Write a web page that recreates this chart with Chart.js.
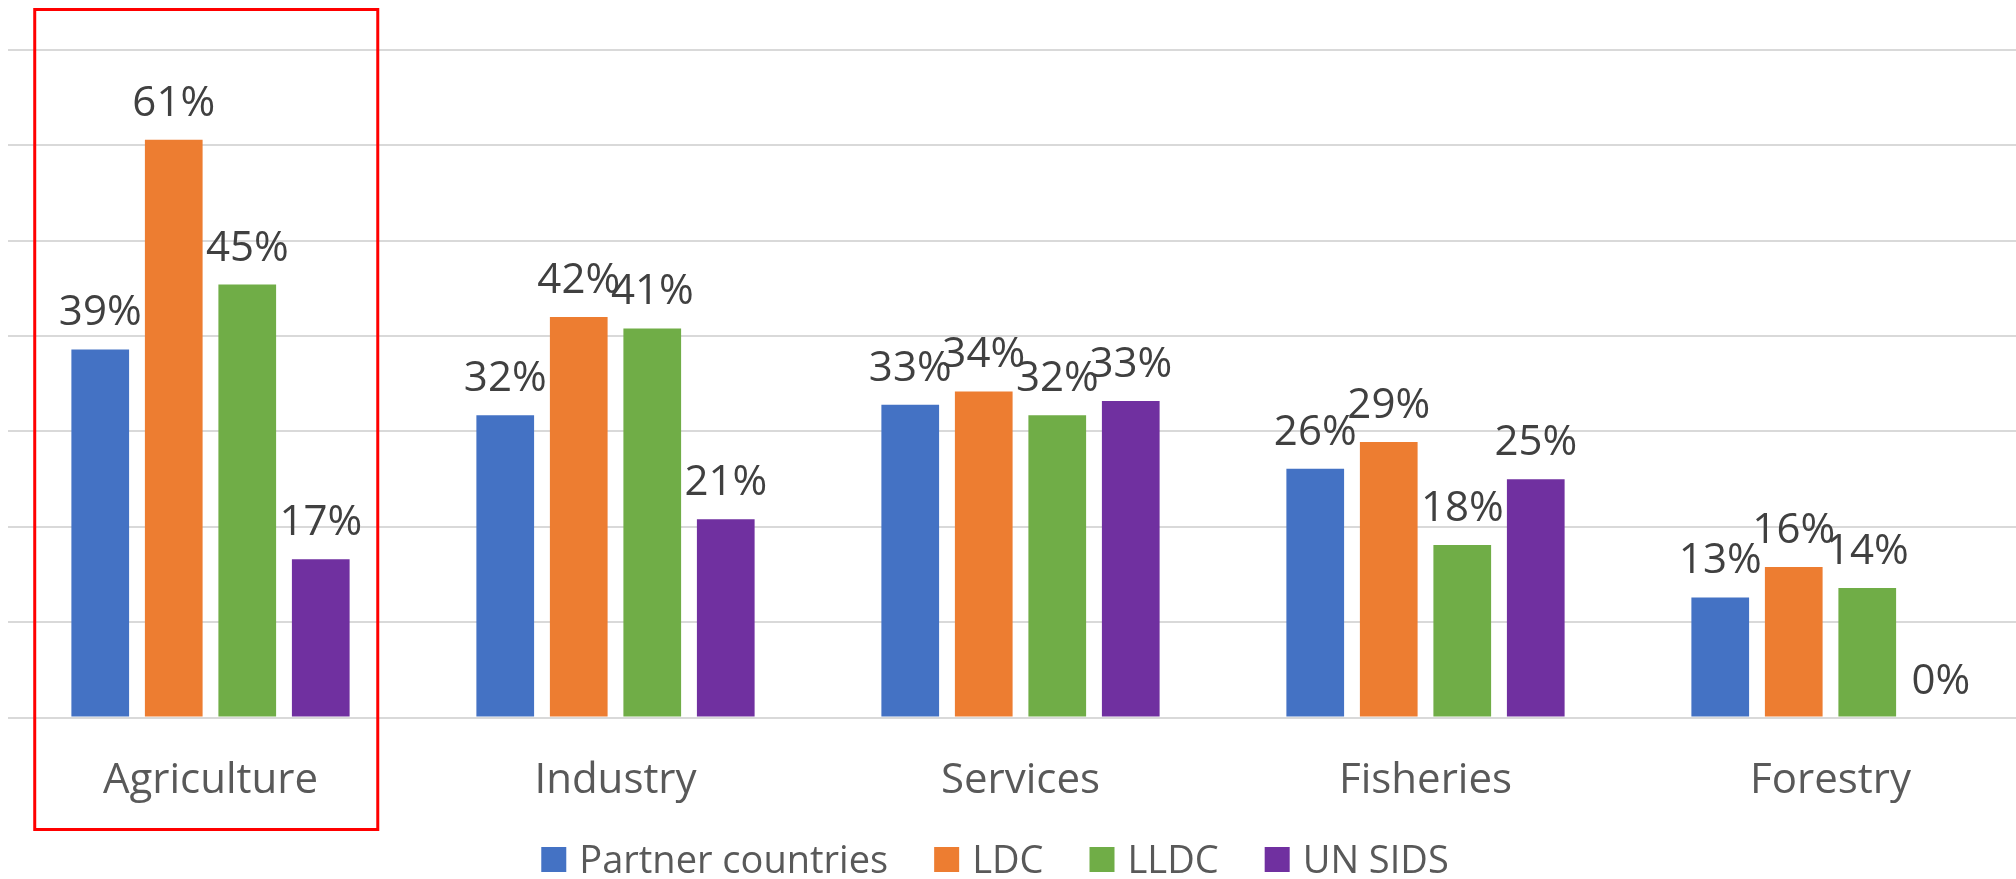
<!DOCTYPE html>
<html lang="en">
<head>
    <meta charset="UTF-8">
    <title>Sector shares</title>
    <script src="https://cdn.jsdelivr.net/npm/chart.js"></script>
    <style>
        html, body { margin: 0; padding: 0; background: #ffffff; overflow: hidden; }
        #wrap { width: 2016px; height: 879px; overflow: hidden; }
    </style>
</head>
<body>
    <!-- the plot runs a little past the right edge, as in the original picture -->
    <div id="wrap"><canvas id="myChart" width="2033" height="879"></canvas></div>

    <script>
        // values
        const categories = ['Agriculture', 'Industry', 'Services', 'Fisheries', 'Forestry'];
        const seriesNames = ['Partner countries', 'LDC', 'LLDC', 'UN SIDS'];
        const partnerCountries = [0.386, 0.317, 0.328, 0.261, 0.126];
        const ldc = [0.606, 0.42, 0.342, 0.289, 0.158];
        const lldc = [0.454, 0.408, 0.317, 0.181, 0.136];
        const unSids = [0.166, 0.208, 0.332, 0.25, 0];
        const seriesColors = ['#4472C4', '#ED7D31', '#70AD47', '#7030A0'];
        const highlighted = 'Agriculture';

        const fontFamily = '"Open Sans", "Noto Sans", sans-serif';
        const visibleWidth = 2016;

        // labels above each bar
        const valueLabels = {
            id: 'valueLabels',
            afterDatasetsDraw(chart) {
                const ctx = chart.ctx;
                ctx.save();
                ctx.font = '42px ' + fontFamily;
                ctx.fillStyle = '#404040';
                ctx.textAlign = 'center';
                ctx.textBaseline = 'alphabetic';
                chart.data.datasets.forEach((ds, i) => {
                    const meta = chart.getDatasetMeta(i);
                    meta.data.forEach((bar, j) => {
                        ctx.fillText(Math.round(ds.data[j] * 100) + '%', bar.x, bar.y - 24);
                    });
                });
                ctx.restore();
            }
        };

        // red frame around the highlighted category
        const highlightBox = {
            id: 'highlightBox',
            afterDraw(chart) {
                const x = chart.scales.x;
                const idx = categories.indexOf(highlighted);
                const catW = (x.right - x.left) / categories.length;
                const catLeft = x.left + idx * catW;
                const ctx = chart.ctx;
                ctx.save();
                ctx.strokeStyle = '#FF0000';
                ctx.lineWidth = 3;
                ctx.strokeRect(catLeft + catW * 0.066, 9.5, catW * 0.847, 820);
                ctx.restore();
            }
        };

        // legend drawn at the bottom, centred
        const bottomLegend = {
            id: 'bottomLegend',
            afterDraw(chart) {
                const ctx = chart.ctx;
                const box = 25, gapText = 13, gapItem = 46;
                ctx.save();
                ctx.font = '38px ' + fontFamily;
                ctx.textBaseline = 'alphabetic';
                ctx.textAlign = 'left';
                const widths = chart.data.datasets.map(ds => ctx.measureText(ds.label).width);
                let total = 0;
                widths.forEach((w, i) => { total += box + gapText + w + (i < widths.length - 1 ? gapItem : 0); });
                let xPos = visibleWidth / 2 - 13 - total / 2;
                chart.data.datasets.forEach((ds, i) => {
                    ctx.fillStyle = ds.backgroundColor;
                    ctx.fillRect(xPos, 847, box, box);
                    ctx.fillStyle = '#595959';
                    ctx.fillText(ds.label, xPos + box + gapText, 873);
                    xPos += box + gapText + widths[i] + gapItem;
                });
                ctx.restore();
            }
        };

        const ctx = document.getElementById('myChart').getContext('2d');

        new Chart(ctx, {
            type: 'bar',
            data: {
                labels: categories,
                datasets: [partnerCountries, ldc, lldc, unSids].map((d, i) => ({
                    label: seriesNames[i],
                    data: d,
                    backgroundColor: seriesColors[i],
                    categoryPercentage: 0.726,
                    barPercentage: 0.785
                }))
            },
            options: {
                responsive: false,
                animation: false,
                devicePixelRatio: 1,
                layout: { padding: { top: 50, left: 8, right: 0, bottom: 43 } },
                plugins: {
                    tooltip: { enabled: false },
                    legend: { display: false }
                },
                scales: {
                    x: {
                        grid: { display: false },
                        border: { display: false },
                        ticks: {
                            font: { family: fontFamily, size: 42 },
                            color: '#595959',
                            padding: 30
                        }
                    },
                    y: {
                        min: 0,
                        max: 0.7,
                        border: { display: false },
                        grid: { color: '#D9D9D9', lineWidth: 2, drawTicks: false },
                        ticks: { display: false, stepSize: 0.1 }
                    }
                }
            },
            plugins: [valueLabels, highlightBox, bottomLegend]
        });
    </script>
</body>
</html>
